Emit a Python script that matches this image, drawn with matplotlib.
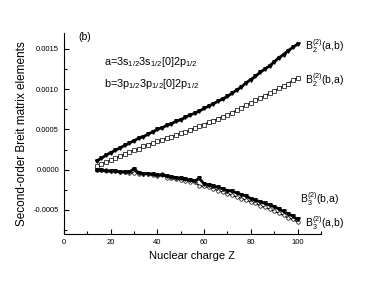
import matplotlib.pyplot as plt
from matplotlib.ticker import MultipleLocator

plt.rcParams['font.family'] = ['Liberation Sans', 'DejaVu Sans']
plt.rcParams['mathtext.default'] = 'regular'

Z = list(range(14, 101, 2))

b2_ab = [0.00011, 0.00014, 0.00018, 0.00021, 0.00024, 0.00027, 0.00030, 0.00033,
         0.00036, 0.00039, 0.00041, 0.00044, 0.00047, 0.00050, 0.00052, 0.00055,
         0.00057, 0.00060, 0.00062, 0.00065, 0.00068, 0.00070, 0.00073, 0.00076,
         0.00079, 0.00082, 0.00085, 0.00088, 0.00091, 0.00095, 0.00099, 0.00103,
         0.00108, 0.00112, 0.00116, 0.00121, 0.00125, 0.00129, 0.00134, 0.00139,
         0.00143, 0.00148, 0.00152, 0.00156]
b2_ba = [0.00004, 0.00007, 0.00009, 0.00012, 0.00014, 0.00017, 0.00019, 0.00022,
         0.00024, 0.00026, 0.00029, 0.00031, 0.00033, 0.00035, 0.00037, 0.00039,
         0.00041, 0.00043, 0.00045, 0.00047, 0.00049, 0.00052, 0.00054, 0.00056,
         0.00059, 0.00061, 0.00063, 0.00066, 0.00068, 0.00071, 0.00074, 0.00077,
         0.00080, 0.00083, 0.00086, 0.00089, 0.00092, 0.00095, 0.00098, 0.00101,
         0.00104, 0.00107, 0.00111, 0.00114]
b3_ab = [0.0, -0.00001, -0.00001, -0.00002, -0.00002, -0.00003, -0.00003, -0.00004,
         -0.00004, -0.00005, -0.00005, -0.00006, -0.00007, -0.00008, -0.00006, -0.00010,
         -0.00011, -0.00012, -0.00013, -0.00014, -0.00015, -0.00016, -0.00020, -0.00021,
         -0.00022, -0.00024, -0.00026, -0.00028, -0.00030, -0.00032, -0.00034, -0.00036,
         -0.00038, -0.00040, -0.00042, -0.00045, -0.00047, -0.00049, -0.00052, -0.00054,
         -0.00057, -0.00060, -0.00062, -0.00065]
b3_ba = [-0.00001, -0.00001, -0.00002, -0.00002, -0.00002, -0.00003, -0.00003, -0.00003,
         0.00001, -0.00004, -0.00005, -0.00005, -0.00006, -0.00007, -0.00007, -0.00008,
         -0.00009, -0.00010, -0.00011, -0.00012, -0.00013, -0.00014, -0.00011, -0.00018,
         -0.00019, -0.00021, -0.00022, -0.00024, -0.00026, -0.00027, -0.00029, -0.00031,
         -0.00033, -0.00036, -0.00038, -0.00040, -0.00042, -0.00044, -0.00046, -0.00049,
         -0.00052, -0.00055, -0.00058, -0.00062]

fig = plt.figure(figsize=(3.74, 2.86), dpi=100)
ax = fig.add_axes([0.171, 0.182, 0.687, 0.703])

ax.plot(Z, b2_ab, 'k-', lw=2, marker='v', ms=2.5)
ax.plot(Z, b2_ba, 'k-', lw=0.9, marker='s', ms=2.5, mfc='white', mew=0.5)
ax.plot(Z, b3_ab, 'k-', lw=0.9, marker='o', ms=2.5, mfc='white', mew=0.5)
ax.plot(Z, b3_ba, 'k-', lw=2, marker='v', ms=2.5)

ax.set_xlim(0, 110)
ax.set_ylim(-0.0008, 0.0017)
ax.xaxis.set_major_locator(MultipleLocator(20))
ax.xaxis.set_minor_locator(MultipleLocator(10))
ax.yaxis.set_major_locator(MultipleLocator(0.0005))
ax.yaxis.set_minor_locator(MultipleLocator(0.00025))
ax.yaxis.set_major_formatter(plt.FormatStrFormatter('%.4f'))
ax.tick_params(which='both', direction='in', labelsize=5.5, width=0.8)
ax.tick_params(which='major', length=3.5)
ax.tick_params(which='minor', length=2)
ax.spines['top'].set_visible(False)
ax.spines['right'].set_visible(False)

ax.set_xlabel('Nuclear charge Z', fontsize=8)
ax.set_ylabel('Second-order Breit matrix elements', fontsize=8.5)

ax.text(6, 0.00165, '(b)', fontsize=7.5, va='center')
ax.text(17, 0.00134, r'a=3s$_{1/2}$3s$_{1/2}$[0]2p$_{1/2}$', fontsize=7.8, va='center')
ax.text(17, 0.00107, r'b=3p$_{1/2}$3p$_{1/2}$[0]2p$_{1/2}$', fontsize=7.8, va='center')
ax.text(103, 0.00154, r'B$_2^{(2)}$(a,b)', fontsize=7.5, va='center')
ax.text(103, 0.00111, r'B$_2^{(2)}$(b,a)', fontsize=7.5, va='center')
ax.text(101, -0.00037, r'B$_3^{(2)}$(b,a)', fontsize=7.5, va='center')
ax.text(103, -0.00066, r'B$_3^{(2)}$(a,b)', fontsize=7.5, va='center')

fig.savefig('out.png', dpi=100)
